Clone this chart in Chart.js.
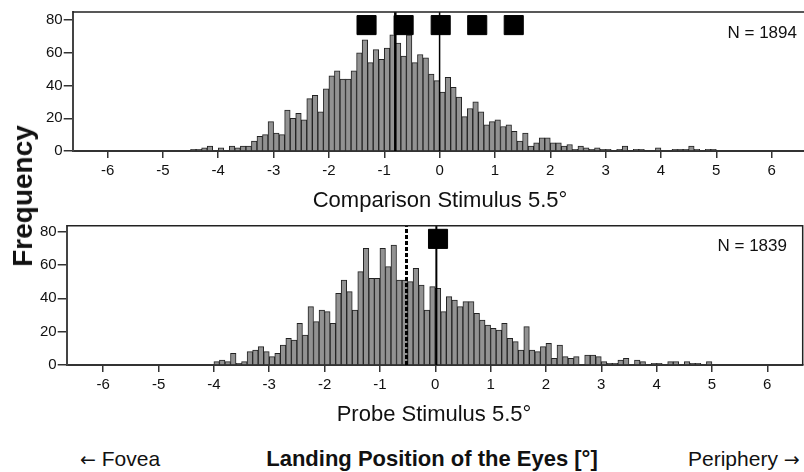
<!DOCTYPE html>
<html>
<head>
<meta charset="utf-8">
<script src="https://cdn.jsdelivr.net/npm/chart.js@4.4.1/dist/chart.umd.min.js"></script>
<style>
  body { margin: 0; width: 804px; height: 472px; overflow: hidden; background: #fff; position: relative;
         font-family: 'Liberation Sans', Arial, sans-serif; color: #111; }
  canvas { position: absolute; left: 0; }
  .t { position: absolute; white-space: nowrap; line-height: 1; }
  .c { transform: translateX(-50%); }
  .arr { font-family: 'DejaVu Sans', sans-serif; font-size: 19px; }
</style>
</head>
<body>
<canvas id="topChart" width="812" height="190" style="top:0"></canvas>
<canvas id="bottomChart" width="812" height="192" style="top:212px"></canvas>

<div class="t" id="freq" style="left:23px;top:196px;font-size:28px;font-weight:bold;transform:translate(-50%,-50%) rotate(-90deg)">Frequency</div>
<div class="t c" style="left:440px;top:189px;font-size:22px">Comparison Stimulus 5.5°</div>
<div class="t c" style="left:434px;top:403px;font-size:22px">Probe Stimulus 5.5°</div>
<div class="t c" style="left:432px;top:448px;font-size:22px;font-weight:bold">Landing Position of the Eyes [°]</div>
<div class="t" style="left:80px;top:448px;font-size:21px"><span class="arr">←</span> Fovea</div>
<div class="t" style="left:688px;top:448px;font-size:21px">Periphery <span class="arr">→</span></div>
<div class="t" style="right:7px;top:24px;font-size:17px">N = 1894</div>
<div class="t" style="right:17px;top:237px;font-size:17px">N = 1839</div>

<script>
// histogram bins (lower edge of each 0.1° bin)
const bins = [
  -4.5, -4.4, -4.3, -4.2, -4.1, -4.0, -3.9, -3.8, -3.7, -3.6,
  -3.5, -3.4, -3.3, -3.2, -3.1, -3.0, -2.9, -2.8, -2.7, -2.6,
  -2.5, -2.4, -2.3, -2.2, -2.1, -2.0, -1.9, -1.8, -1.7, -1.6,
  -1.5, -1.4, -1.3, -1.2, -1.1, -1.0, -0.9, -0.8, -0.7, -0.6,
  -0.5, -0.4, -0.3, -0.2, -0.1, 0.0, 0.1, 0.2, 0.3, 0.4,
  0.5, 0.6, 0.7, 0.8, 0.9, 1.0, 1.1, 1.2, 1.3, 1.4,
  1.5, 1.6, 1.7, 1.8, 1.9, 2.0, 2.1, 2.2, 2.3, 2.4,
  2.5, 2.6, 2.7, 2.8, 2.9, 3.0, 3.1, 3.2, 3.3, 3.4,
  3.5, 3.6, 3.7, 3.8, 3.9, 4.0, 4.1, 4.2, 4.3, 4.4,
  4.5, 4.6, 4.7, 4.8, 4.9
];

// comparison stimulus counts
const comparisonCounts = [
  1, 1, 2, 3, 0, 2, 0, 3, 2, 3,
  3, 6, 9, 10, 18, 11, 10, 25, 20, 23,
  19, 32, 34, 24, 38, 46, 49, 44, 44, 49,
  60, 68, 54, 62, 56, 63, 71, 66, 58, 71,
  54, 59, 57, 47, 43, 36, 45, 39, 33, 21,
  26, 30, 24, 16, 18, 19, 15, 16, 12, 6,
  11, 3, 5, 8, 8, 5, 5, 3, 4, 1,
  3, 2, 1, 2, 1, 1, 0, 1, 3, 0,
  1, 1, 0, 0, 2, 0, 0, 1, 1, 1,
  3, 1, 0, 1, 1
];

// probe stimulus counts
const probeCounts = [
  0, 0, 0, 0, 0, 2, 3, 2, 7, 1,
  2, 8, 9, 11, 8, 5, 7, 12, 16, 15,
  25, 18, 35, 26, 33, 32, 25, 43, 51, 44,
  33, 56, 70, 52, 52, 70, 59, 72, 51, 51,
  50, 58, 48, 33, 47, 46, 32, 41, 39, 35,
  38, 38, 31, 27, 24, 22, 21, 25, 16, 14,
  9, 23, 9, 8, 11, 13, 4, 12, 5, 4,
  5, 0, 6, 6, 5, 2, 1, 1, 3, 4,
  0, 3, 2, 0, 1, 1, 0, 2, 2, 0,
  2, 1, 1, 0, 2
];

// markers
const comparisonSquares = [-1.32, -0.65, 0.02, 0.68, 1.34];
const comparisonMeanLine = -0.8;
const comparisonZeroLine = 0.0;
const probeSquares = [0.05];
const probeMeanLine = -0.52;   // dashed
const probeZeroLine = 0.02;

Chart.defaults.font.family = "'Liberation Sans', Arial, sans-serif";
Chart.defaults.color = '#111';

// top + right frame of the plot box
const framePlugin = {
  id: 'frame',
  afterDatasetsDraw(chart) {
    const { ctx, chartArea: a } = chart;
    ctx.save();
    ctx.strokeStyle = '#222';
    ctx.lineWidth = 1.5;
    ctx.beginPath();
    ctx.moveTo(a.left, a.top);
    ctx.lineTo(a.right, a.top);
    ctx.lineTo(a.right, a.bottom);
    ctx.stroke();
    ctx.restore();
  }
};

function vline(x, yMax, width, dash) {
  return {
    type: 'line',
    data: [{ x: x, y: 0 }, { x: x, y: yMax }],
    borderColor: '#000',
    borderWidth: width,
    borderDash: dash || [],
    pointRadius: 0,
    order: 1
  };
}

function makeHist(id, counts, cfg) {
  const datasets = [
    {
      type: 'scatter',
      data: cfg.squares.map(x => ({ x: x, y: cfg.squareY })),
      pointStyle: 'rect',
      pointRadius: 13.5,
      backgroundColor: '#000',
      borderColor: '#000',
      order: 0
    },
    ...cfg.lines,
    {
      type: 'bar',
      data: bins.map((b, i) => ({ x: b + 0.05, y: counts[i] })),
      backgroundColor: '#929292',
      borderColor: '#222',
      borderWidth: 1,
      barPercentage: 1,
      categoryPercentage: 1,
      order: 5
    }
  ];

  return new Chart(document.getElementById(id), {
    type: 'bar',
    data: { datasets: datasets },
    options: {
      responsive: false,
      animation: false,
      layout: { autoPadding: false, padding: { top: cfg.padTop, right: cfg.padRight, left: 0, bottom: 0 } },
      plugins: { legend: { display: false }, tooltip: { enabled: false } },
      scales: {
        x: {
          type: 'linear',
          min: cfg.xMin,
          max: cfg.xMax,
          offset: false,
          grid: { offset: false, drawOnChartArea: false, tickLength: 7, color: '#333', lineWidth: 1.5 },
          border: { color: '#333', width: 2 },
          ticks: { stepSize: 1, includeBounds: false, font: { size: 15 }, padding: 4, maxRotation: 0 },
          afterFit(s) { s.height = cfg.xAxisH; }
        },
        y: {
          min: 0,
          max: cfg.yMax,
          grid: { drawOnChartArea: false, tickLength: 9, color: '#333', lineWidth: 1.5 },
          border: { color: '#444', width: 2 },
          ticks: { stepSize: 20, includeBounds: false, font: { size: 15 }, padding: 1 },
          afterFit(s) { s.width = cfg.yAxisW; }
        }
      }
    },
    plugins: [framePlugin]
  });
}

makeHist('topChart', comparisonCounts, {
  xMin: -6.63, xMax: 6.67, yMax: 85,
  padTop: 12, padRight: 3.3, xAxisH: 39, yAxisW: 72.7,
  squares: comparisonSquares, squareY: 77,
  lines: [vline(comparisonMeanLine, 85, 2.5), vline(comparisonZeroLine, 85, 1.5)]
});

makeHist('bottomChart', probeCounts, {
  xMin: -6.66, xMax: 6.64, yMax: 83.6,
  padTop: 13.7, padRight: 9.3, xAxisH: 39, yAxisW: 66.7,
  squares: probeSquares, squareY: 75.7,
  lines: [vline(probeMeanLine, 83.6, 3, [4, 2]), vline(probeZeroLine, 83.6, 2)]
});
</script>
</body>
</html>
